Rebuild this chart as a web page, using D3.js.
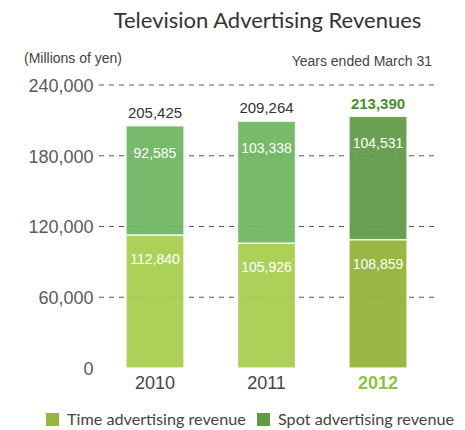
<!DOCTYPE html>
<html>
<head>
<meta charset="utf-8">
<script src="https://cdn.jsdelivr.net/npm/d3@7"></script>
<style>
  html, body { margin: 0; padding: 0; background: #fff; }
  svg { display: block; }
</style>
</head>
<body>
<svg id="chart" width="465" height="430"></svg>
<script>
// Fiscal years (ended March 31)
const years = ["2010", "2011", "2012"];
// Revenue components, millions of yen
const timeRevenue = [112840, 105926, 108859];
const spotRevenue = [92585, 103338, 104531];
const totalRevenue = [205425, 209264, 213390];
// Value-axis ticks
const yTicks = [0, 60000, 120000, 180000, 240000];

const svg = d3.select("#chart");
const sans = "'Liberation Sans', Arial, sans-serif";
const roundFont = "Lato, 'Noto Sans', sans-serif";

const x = d3.scaleBand().domain(years).range([99.25, 433.75])
  .paddingInner(0.48).paddingOuter(0.24);
const y = d3.scaleLinear().domain([0, 240000]).range([368, 85]);

const highlight = "2012";
const colors = {
  time: { normal: "#a6ce4c", highlight: "#91b135" },
  spot: { normal: "#6db55e", highlight: "#5f9944" }
};

// Title and notes
svg.append("text").attr("x", 267.5).attr("y", 28)
  .attr("text-anchor", "middle").attr("font-family", roundFont)
  .attr("font-size", 22).attr("fill", "#333")
  .text("Television Advertising Revenues");
svg.append("text").attr("x", 24).attr("y", 63)
  .attr("font-family", sans).attr("font-size", 14).attr("fill", "#444")
  .text("(Millions of yen)");
svg.append("text").attr("x", 432).attr("y", 66)
  .attr("text-anchor", "end").attr("font-family", sans)
  .attr("font-size", 14).attr("fill", "#444")
  .text("Years ended March 31");

// Dashed gridlines (drawn beneath the slightly translucent bars)
svg.append("g").selectAll("line")
  .data(yTicks.filter(d => d > 0)).join("line")
  .attr("x1", 99).attr("x2", 435)
  .attr("y1", d => y(d)).attr("y2", d => y(d))
  .attr("stroke", "#555").attr("stroke-width", 1.2)
  .attr("stroke-dasharray", "5,5");

// Value axis labels
const yAxis = d3.axisLeft(y).tickValues(yTicks)
  .tickFormat(d3.format(",")).tickSize(0).tickPadding(0);
const yAxisG = svg.append("g").attr("transform", "translate(93.5,0)").call(yAxis);
yAxisG.select(".domain").remove();
yAxisG.selectAll("text")
  .attr("font-family", sans).attr("font-size", 18)
  .attr("fill", "#5a5a5a").attr("dy", "0.35em");

// Stacked bars
const rows = years.map((yr, i) => ({
  year: yr, time: timeRevenue[i], spot: spotRevenue[i], total: totalRevenue[i]
}));
const series = d3.stack().keys(["time", "spot"])(rows);

const barG = svg.append("g");
series.forEach(s => {
  barG.append("g").selectAll("rect").data(s).join("rect")
    .attr("x", d => x(d.data.year))
    .attr("width", x.bandwidth())
    .attr("y", d => y(d[1]))
    .attr("height", d => y(d[0]) - y(d[1]))
    .attr("fill", d => colors[s.key][d.data.year === highlight ? "highlight" : "normal"])
    .attr("fill-opacity", 0.93)
    .attr("stroke", "#fff").attr("stroke-width", 1.4).attr("stroke-opacity", 0.85);

  // Segment value labels, inside near the top of each segment
  barG.append("g").selectAll("text").data(s).join("text")
    .attr("x", d => x(d.data.year) + x.bandwidth() / 2)
    .attr("y", d => y(d[1]) + (s.key === "spot" ? 27 : 24))
    .attr("dy", "0.35em")
    .attr("text-anchor", "middle").attr("font-family", sans)
    .attr("font-size", 14).attr("fill", "#fff")
    .text(d => d3.format(",")(d.data[s.key]));
});

// Totals above the bars
svg.append("g").selectAll("text").data(rows).join("text")
  .attr("x", d => x(d.year) + x.bandwidth() / 2)
  .attr("y", d => y(d.total) - 13)
  .attr("dy", "0.35em")
  .attr("text-anchor", "middle").attr("font-family", sans)
  .attr("font-size", 15)
  .attr("font-weight", d => d.year === highlight ? "bold" : "normal")
  .attr("fill", d => d.year === highlight ? "#4b8d2c" : "#333")
  .text(d => d3.format(",")(d.total));

// Category axis labels
const xAxis = d3.axisBottom(x).tickSize(0).tickPadding(0);
const xAxisG = svg.append("g").attr("transform", "translate(0,383)").call(xAxis);
xAxisG.select(".domain").remove();
xAxisG.selectAll("text")
  .attr("font-family", sans).attr("font-size", 18).attr("dy", "0.35em")
  .attr("font-weight", d => d === highlight ? "bold" : "normal")
  .attr("fill", d => d === highlight ? "#8cc43f" : "#444");

// Legend
const legendItems = [
  { label: "Time advertising revenue", color: "#95b639", x: 46 },
  { label: "Spot advertising revenue", color: "#5f9a45", x: 257 }
];
const lg = svg.append("g").selectAll("g").data(legendItems).join("g")
  .attr("transform", d => `translate(${d.x},413)`);
lg.append("rect").attr("width", 13).attr("height", 13).attr("fill", d => d.color);
lg.append("text").attr("x", 21).attr("y", 6.5).attr("dy", "0.35em")
  .attr("font-family", roundFont).attr("font-size", 16.2).attr("fill", "#444")
  .text(d => d.label);
</script>
</body>
</html>
